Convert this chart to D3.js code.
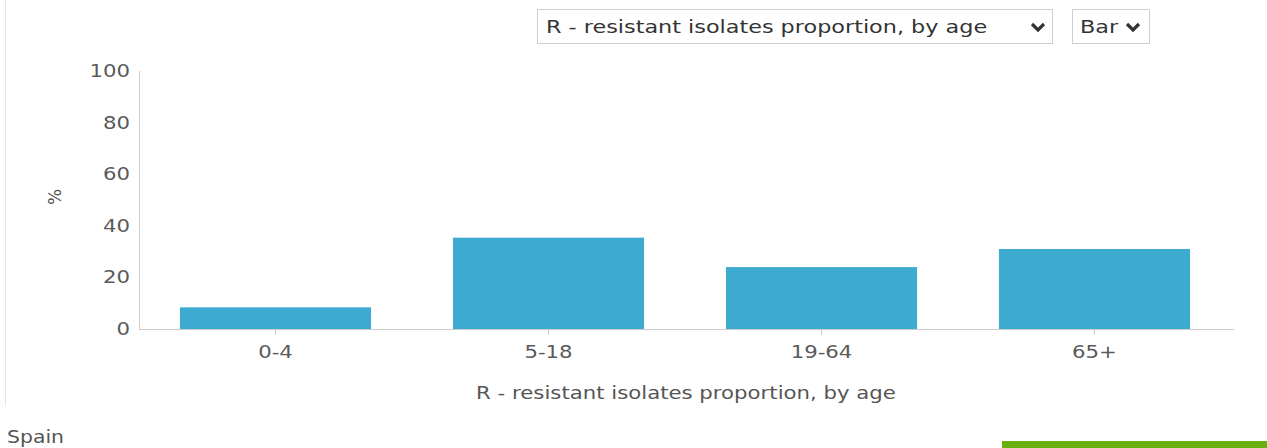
<!DOCTYPE html>
<html>
<head>
<meta charset="utf-8">
<script src="https://cdn.jsdelivr.net/npm/d3@7"></script>
<style>
  html, body { margin: 0; padding: 0; background: #fff; width: 1267px; height: 448px; overflow: hidden; }
  body { position: relative; font-family: "DejaVu Sans", sans-serif; }
  .frame { position: absolute; left: 5px; top: 0; width: 0; height: 406px; border-left: 1px solid #e6e6e6; }
  .sel { position: absolute; border: 1px solid #cfcfcf; background: #fff; color: #333; font-size: 18px; box-sizing: border-box; line-height: 34px; }
  .sel span { position: absolute; left: 8px; top: 0; transform: scaleX(1.24); transform-origin: left center; white-space: nowrap; }
  .sel svg { position: absolute; top: 12px; }
  #chart { position: absolute; left: 0; top: 0; }
  .spain { position: absolute; left: 7px; top: 427px; font-size: 17px; color: #555; transform: scaleX(1.2); transform-origin: left center; }
  .green { position: absolute; left: 1002px; top: 441px; width: 265px; height: 7px; background: #67b10f; }
</style>
</head>
<body>
<div class="frame"></div>
<div class="sel" id="sel1" style="left:537px; top:9px; width:516px; height:35px;"><span>R - resistant isolates proportion, by age</span></div>
<div class="sel" id="sel2" style="left:1072px; top:9px; width:78px; height:35px;"><span style="left:7px">Bar</span></div>
<svg id="chart" width="1267" height="448"></svg>
<div class="spain">Spain</div>
<div class="green"></div>
<script>
const categories = ["0-4", "5-18", "19-64", "65+"];
const values = [8.4, 35.4, 24.0, 31.0];
const yTicks = [0, 20, 40, 60, 80, 100];
const axisTitle = "R - resistant isolates proportion, by age";
const yTitle = "%";

const SX = 1.25; // horizontal glyph stretch to match reference text widths

function chevron(sel, left) {
  const s = d3.select(sel).append("svg").attr("width", 16).attr("height", 11).style("left", left + "px");
  s.append("path").attr("d", "M2,2 L8,8 L14,2").attr("fill", "none").attr("stroke", "#333").attr("stroke-width", 3.2);
}
chevron("#sel1", 492);
chevron("#sel2", 52);

const svg = d3.select("#chart");
const x = d3.scaleBand().domain(categories).range([139, 1231]).paddingInner(0.3).paddingOuter(0.15);
const y = d3.scaleLinear().domain([0, 100]).range([329, 71]);

// y axis line
svg.append("line").attr("x1", 139.5).attr("x2", 139.5).attr("y1", y(100)).attr("y2", y(0)).attr("stroke", "#cccccc");

// bars
svg.selectAll("rect.bar").data(values).join("rect")
  .attr("class", "bar")
  .attr("x", (d, i) => x(categories[i]))
  .attr("width", x.bandwidth())
  .attr("y", d => y(d))
  .attr("height", d => y(0) - y(d))
  .attr("fill", "#3daacf");

// x axis
const xAxis = svg.append("g").attr("transform", `translate(0,${y(0)})`)
  .call(d3.axisBottom(x).tickSize(6).tickSizeOuter(0));
xAxis.select(".domain").attr("stroke", "#cccccc").attr("d", "M139,0.5H1234");
xAxis.selectAll(".tick line").attr("stroke", "#cccccc");
xAxis.selectAll(".tick text").attr("fill", "#5a5a5a").attr("font-size", 17).attr("font-family", "DejaVu Sans")
  .attr("y", 0).attr("dy", 0).attr("transform", `translate(0,29) scale(${SX},1)`);

// y axis labels
const yAxis = svg.append("g").attr("transform", "translate(130,0)")
  .call(d3.axisLeft(y).tickValues(yTicks).tickSize(0).tickPadding(0));
yAxis.select(".domain").remove();
yAxis.selectAll(".tick text").attr("fill", "#5a5a5a").attr("font-size", 17).attr("font-family", "DejaVu Sans")
  .attr("x", 0).attr("transform", `scale(${SX},1)`);

// titles
svg.append("text").attr("transform", `translate(686,399) scale(${SX},1)`).attr("text-anchor", "middle")
  .attr("fill", "#555").attr("font-size", 17).attr("font-family", "DejaVu Sans").text(axisTitle);
svg.append("text").attr("transform", "translate(61,197) rotate(-90)").attr("text-anchor", "middle")
  .attr("fill", "#555").attr("font-size", 17).attr("font-family", "DejaVu Sans").text(yTitle);
</script>
</body>
</html>
